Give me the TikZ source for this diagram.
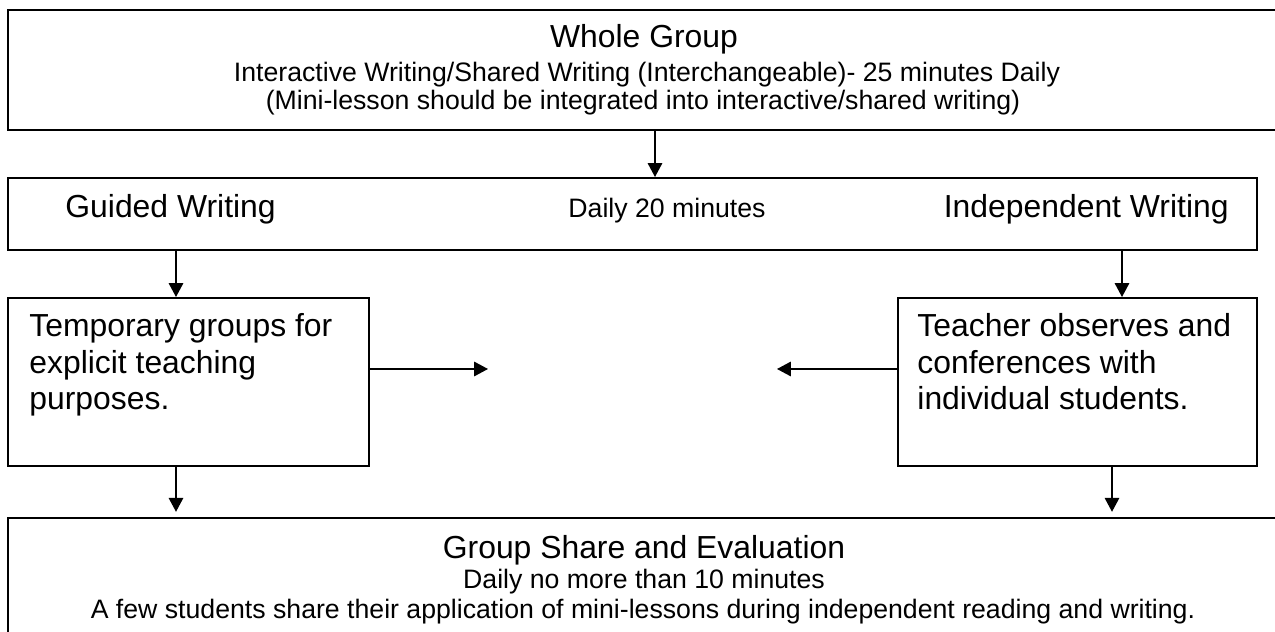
\documentclass[tikz,border=0pt]{standalone}
\usepackage{fontspec}
\setmainfont{Liberation Sans}
\usetikzlibrary{arrows.meta}
\begin{document}
\begin{tikzpicture}[x=0.48pt,y=-0.48pt,
  boxs/.style={draw,line width=1pt,inner sep=0pt,anchor=north west},
  arr/.style={line width=0.7pt,-{Triangle[length=6.7pt,width=7pt]}},
  big/.style={font=\fontsize{15.3}{17.5}\selectfont,inner sep=0pt},
  small/.style={font=\fontsize{12.8}{15}\selectfont,inner sep=0pt}]
\clip (0,0) rectangle (1275,632);
\useasboundingbox (0,0) rectangle (1275,632);
% boxes
\node[boxs,minimum width=615.84pt,minimum height=57.6pt] (top) at (7,9) {};
\node[boxs,minimum width=599.52pt,minimum height=34.56pt] (mid) at (7,177) {};
\node[boxs,minimum width=173.28pt,minimum height=80.64pt] (tg) at (7,297) {};
\node[boxs,minimum width=172.32pt,minimum height=80.64pt] (tc) at (897,297) {};
\node[boxs,minimum width=615.84pt,minimum height=63.84pt] (bot) at (7,517) {};
% texts
\node[big,anchor=base] (t1) at (644,48) {Whole Group};
\node[small,anchor=base] (t2) at (647,82) {Interactive Writing/Shared Writing (Interchangeable)- 25 minutes Daily};
\node[small,anchor=base] (t3) at (643,110) {(Mini-lesson should be integrated into interactive/shared writing)};
\node[big,anchor=base west] (gw) at (65,218) {Guided Writing};
\node[small,anchor=base] (d20) at (667,218) {Daily 20 minutes};
\node[big,anchor=base east] (iw) at (1229,218) {Independent Writing};
\node[big,anchor=base west,align=left] (tgt) at (29,337) {Temporary groups for};
\node[big,anchor=base west,align=left] (tgt2) at (29,373.5) {explicit teaching};
\node[big,anchor=base west,align=left] (tgt3) at (29,410) {purposes.};
\node[big,anchor=base west,align=left] (tct) at (917,337) {Teacher observes and};
\node[big,anchor=base west,align=left] (tct2) at (917,373.5) {conferences with};
\node[big,anchor=base west,align=left] (tct3) at (917,410) {individual students.};
\node[big,anchor=base] (b1) at (644,559) {Group Share and Evaluation};
\node[small,anchor=base] (b2) at (644,589) {Daily no more than 10 minutes};
\node[small,anchor=base] (b3) at (643,619) {A few students share their application of mini-lessons during independent reading and writing.};
% connector positions
\coordinate (xa) at (655,0);
\coordinate (xl) at (176,0);
\coordinate (xr) at (1122,0);
\coordinate (xr2) at (1112,0);
\coordinate (la) at (488,369);
\coordinate (ra) at (777,369);
\draw[arr] (top.south -| xa) -- (mid.north -| xa);
\draw[arr] (mid.south -| xl) -- (tg.north -| xl);
\draw[arr] (mid.south -| xr) -- (tc.north -| xr);
\draw[arr] (tg.east |- la) -- (la);
\draw[arr] (tc.west |- ra) -- (ra);
\draw[arr] (tg.south -| xl) -- ([yshift=2.5pt]bot.north -| xl);
\draw[arr] (tc.south -| xr2) -- ([yshift=2.5pt]bot.north -| xr2);
\end{tikzpicture}
\end{document}
